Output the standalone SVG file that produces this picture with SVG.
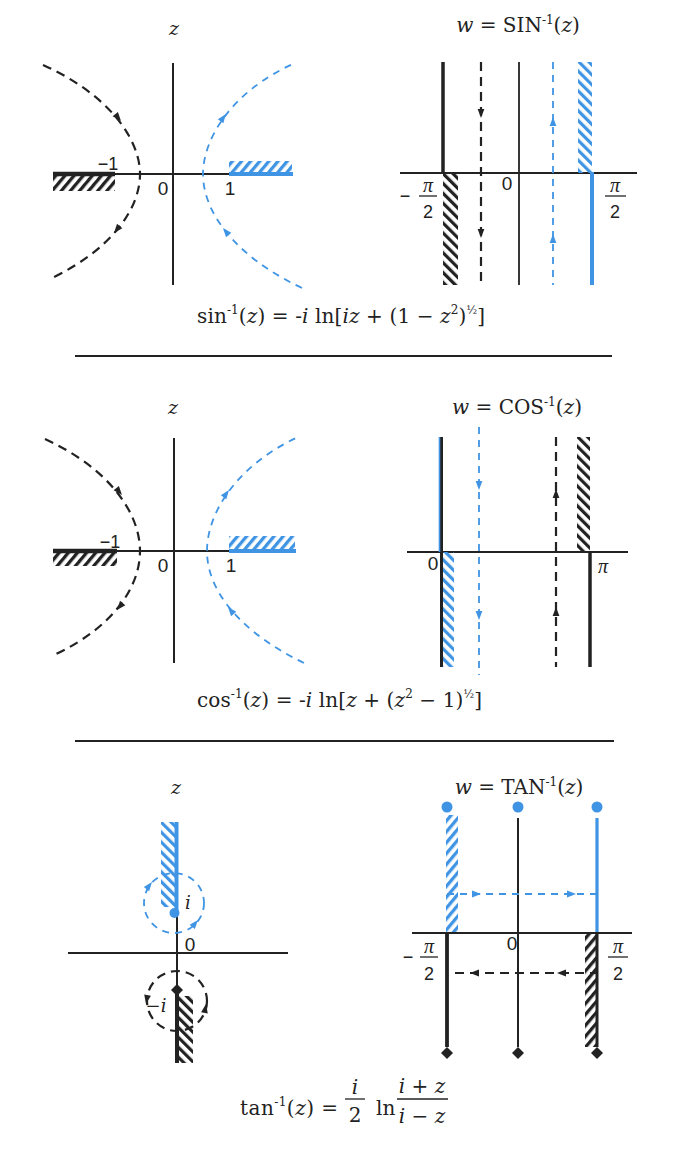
<svg xmlns="http://www.w3.org/2000/svg" xmlns:xlink="http://www.w3.org/1999/xlink" width="694" height="1166" viewBox="0 0 694 1166">
<style>
.bk{stroke:#222;fill:none}
.bl{stroke:#3f94e4;fill:none}
.ax{stroke:#222;stroke-width:2;fill:none}
.dk{stroke:#222;stroke-width:2.2;fill:none;stroke-dasharray:9 6}
.db{stroke:#3f94e4;stroke-width:1.8;fill:none;stroke-dasharray:7 6}
.ak{fill:#222}
.ab{fill:#3f94e4}
.m{font-family:"DejaVu Serif","Liberation Serif",serif;fill:#222}
.p{font-family:"Liberation Serif","Times New Roman",serif;font-style:italic;fill:#222}
.s{font-family:"Liberation Sans",Arial,sans-serif;fill:#222}
.it{font-style:italic}
</style>
<defs>
<pattern id="hkB" width="7" height="7" patternUnits="userSpaceOnUse" patternTransform="rotate(-45)"><rect width="3.2" height="7" fill="#222"/></pattern>
<pattern id="hkF" width="7" height="7" patternUnits="userSpaceOnUse" patternTransform="rotate(40)"><rect width="3.3" height="7" fill="#222"/></pattern>
<pattern id="hbB" width="7" height="7" patternUnits="userSpaceOnUse" patternTransform="rotate(-45)"><rect width="3.2" height="7" fill="#3f94e4"/></pattern>
<pattern id="hbF" width="7" height="7" patternUnits="userSpaceOnUse" patternTransform="rotate(40)"><rect width="3.3" height="7" fill="#3f94e4"/></pattern>
<path id="ah" d="M0,0 L-9,-3.4 L-9,3.4 Z"/>
<path id="dm" d="M0,-6 L6,0 L0,6 L-6,0 Z"/>
</defs>

<!-- ============ SIN z-plane ============ -->
<g id="sin-z">
<text class="m it" x="174" y="35" font-size="19" text-anchor="middle">z</text>
<line class="ax" x1="173" y1="63" x2="173" y2="285"/>
<line class="ax" x1="53" y1="174" x2="293" y2="174"/>
<rect x="53" y="174" width="62" height="17" fill="url(#hkF)"/>
<line class="bk" stroke-width="4.5" x1="53" y1="174" x2="115" y2="174"/>
<rect x="229" y="161" width="63" height="13" fill="url(#hbF)"/>
<line class="bl" stroke-width="4" x1="229" y1="174" x2="293" y2="174"/>
<text class="s" x="108" y="170" font-size="18" text-anchor="middle">−1</text>
<text class="s" x="163" y="195" font-size="19" text-anchor="middle">0</text>
<text class="s" x="230" y="195" font-size="19" text-anchor="middle">1</text>
</g>

<!-- ============ SIN w-plane ============ -->
<g id="sin-w">
<text class="m" x="518" y="32" font-size="20" text-anchor="middle"><tspan class="it">w</tspan> = SIN<tspan font-size="12" dy="-8">-1</tspan><tspan dy="8">(</tspan><tspan class="it">z</tspan>)</text>
<line class="ax" x1="400" y1="173" x2="637" y2="173"/>
<line class="bk" stroke-width="3.5" x1="443" y1="62" x2="443" y2="174"/>
<rect x="443" y="173" width="15" height="112" fill="url(#hkB)"/>
<line class="bk" stroke-width="1.8" x1="519" y1="62" x2="519" y2="285"/>
<rect x="578" y="62" width="14" height="111" fill="url(#hbB)"/>
<line class="bl" stroke-width="4" x1="592" y1="172" x2="592" y2="285"/>
<text class="s" x="507" y="190" font-size="19" text-anchor="middle">0</text>
<text class="s" x="405" y="202" font-size="18" text-anchor="middle">−</text>
<text class="p" x="428" y="192" font-size="20" text-anchor="middle">π</text>
<line class="bk" stroke-width="1.3" x1="419" y1="196" x2="437" y2="196"/>
<text class="s" x="428" y="218" font-size="18" text-anchor="middle">2</text>
<text class="p" x="615" y="192" font-size="20" text-anchor="middle">π</text>
<line class="bk" stroke-width="1.3" x1="605" y1="196" x2="626" y2="196"/>
<text class="s" x="615" y="218" font-size="18" text-anchor="middle">2</text>
</g>

<text id="f-sin" class="m" x="197" y="323" font-size="20" textLength="288" lengthAdjust="spacing">sin<tspan font-size="12" dy="-9">-1</tspan><tspan dy="9">(</tspan><tspan class="it">z</tspan>) = -<tspan class="it">i</tspan> ln[<tspan class="it">iz</tspan> + (1 − <tspan class="it">z</tspan><tspan font-size="12" dy="-9">2</tspan><tspan dy="9">)</tspan><tspan font-size="11" dy="-9">½</tspan><tspan dy="9">]</tspan></text>
<line id="rule1" class="bk" stroke-width="2.2" x1="75" y1="356" x2="612" y2="356"/>

<!-- ============ COS z-plane ============ -->
<g id="cos-z">
<text class="m it" x="173" y="414" font-size="19" text-anchor="middle">z</text>
<line class="ax" x1="174" y1="438" x2="174" y2="663"/>
<line class="ax" x1="53" y1="551" x2="296" y2="551"/>
<rect x="53" y="551" width="64" height="15" fill="url(#hkF)"/>
<line class="bk" stroke-width="4.5" x1="53" y1="551" x2="117" y2="551"/>
<rect x="229" y="536" width="66" height="15" fill="url(#hbF)"/>
<line class="bl" stroke-width="4" x1="229" y1="551" x2="296" y2="551"/>
<text class="s" x="110" y="548" font-size="18" text-anchor="middle">−1</text>
<text class="s" x="163" y="572" font-size="19" text-anchor="middle">0</text>
<text class="s" x="231" y="572" font-size="19" text-anchor="middle">1</text>
</g>

<!-- ============ COS w-plane ============ -->
<g id="cos-w">
<text class="m" x="517" y="414" font-size="20" text-anchor="middle"><tspan class="it">w</tspan> = COS<tspan font-size="12" dy="-8">-1</tspan><tspan dy="8">(</tspan><tspan class="it">z</tspan>)</text>
<line class="ax" x1="407" y1="552" x2="628" y2="552"/>
<line class="bk" stroke-width="3" x1="441.5" y1="437" x2="441.5" y2="667"/>
<line class="bl" stroke-width="1.6" x1="439.5" y1="437" x2="439.5" y2="552"/>
<rect x="443" y="552" width="11" height="115" fill="url(#hbB)"/>
<rect x="577" y="437" width="13" height="115" fill="url(#hkB)"/>
<line class="bk" stroke-width="3.5" x1="590" y1="551" x2="590" y2="667"/>
<text class="s" x="433" y="570" font-size="19" text-anchor="middle">0</text>
<text class="p" x="603" y="573" font-size="20" text-anchor="middle">π</text>
</g>

<text id="f-cos" class="m" x="197" y="707" font-size="20" textLength="285" lengthAdjust="spacing">cos<tspan font-size="12" dy="-9">-1</tspan><tspan dy="9">(</tspan><tspan class="it">z</tspan>) = -<tspan class="it">i</tspan> ln[<tspan class="it">z</tspan> + (<tspan class="it">z</tspan><tspan font-size="12" dy="-9">2</tspan><tspan dy="9"> − 1)</tspan><tspan font-size="11" dy="-9">½</tspan><tspan dy="9">]</tspan></text>
<line id="rule2" class="bk" stroke-width="2.2" x1="75" y1="741" x2="614" y2="741"/>

<!-- ============ TAN z-plane ============ -->
<g id="tan-z">
<text class="m it" x="176" y="794" font-size="19" text-anchor="middle">z</text>
<line class="ax" x1="177" y1="822" x2="177" y2="1063"/>
<line class="ax" x1="68" y1="953" x2="288" y2="953"/>
<rect x="161" y="822" width="15" height="85" fill="url(#hbB)"/>
<line class="bl" stroke-width="4" x1="176.5" y1="822" x2="176.5" y2="913"/>
<circle cx="174.5" cy="913" r="5" fill="#3f94e4"/>
<rect x="178" y="996" width="15" height="67" fill="url(#hkB)"/>
<line class="bk" stroke-width="4" x1="177" y1="990" x2="177" y2="1063"/>
<use xlink:href="#dm" class="ak" transform="translate(177,990)"/>
<text class="m it" x="188" y="909" font-size="18" text-anchor="middle">i</text>
<text class="s" x="190" y="951" font-size="19" text-anchor="middle">0</text>
<text class="m" x="156" y="1012" font-size="18" text-anchor="middle">−<tspan class="it">i</tspan></text>
</g>

<!-- ============ TAN w-plane ============ -->
<g id="tan-w">
<text class="m" x="519" y="794" font-size="20" text-anchor="middle"><tspan class="it">w</tspan> = TAN<tspan font-size="12" dy="-8">-1</tspan><tspan dy="8">(</tspan><tspan class="it">z</tspan>)</text>
<circle cx="447" cy="807" r="5.5" fill="#3f94e4"/>
<circle cx="518" cy="807" r="5.5" fill="#3f94e4"/>
<circle cx="597" cy="807" r="5.5" fill="#3f94e4"/>
<rect x="446" y="815" width="12" height="118" fill="url(#hbF)"/>
<line class="bk" stroke-width="2" x1="518" y1="818" x2="518" y2="1047"/>
<line class="bl" stroke-width="3.2" x1="597" y1="818" x2="597" y2="933"/>
<line class="ax" stroke-width="2.5" x1="412" y1="933" x2="632" y2="933"/>
<line class="bk" stroke-width="3.8" x1="447" y1="933" x2="447" y2="1047"/>
<rect x="585" y="934" width="12" height="113" fill="url(#hkF)"/>
<line class="bk" stroke-width="3" x1="597" y1="933" x2="597" y2="1047"/>
<use xlink:href="#dm" class="ak" transform="translate(447,1053)"/>
<use xlink:href="#dm" class="ak" transform="translate(518,1053)"/>
<use xlink:href="#dm" class="ak" transform="translate(597,1053)"/>
<text class="s" x="512" y="950" font-size="19" text-anchor="middle">0</text>
<text class="s" x="408" y="963" font-size="18" text-anchor="middle">−</text>
<text class="p" x="429" y="953" font-size="20" text-anchor="middle">π</text>
<line class="bk" stroke-width="1.3" x1="420" y1="957" x2="438" y2="957"/>
<text class="s" x="429" y="980" font-size="18" text-anchor="middle">2</text>
<text class="p" x="618" y="953" font-size="20" text-anchor="middle">π</text>
<line class="bk" stroke-width="1.3" x1="608" y1="957" x2="628" y2="957"/>
<text class="s" x="618" y="980" font-size="18" text-anchor="middle">2</text>
</g>

<g id="f-tan" class="m" font-size="20">
<text x="240" y="1115" textLength="98" lengthAdjust="spacing">tan<tspan font-size="12" dy="-9">-1</tspan><tspan dy="9">(</tspan><tspan class="it">z</tspan>) =</text>
<text class="it" x="355" y="1094" text-anchor="middle">i</text>
<line class="bk" stroke-width="1.3" x1="345" y1="1099" x2="365" y2="1099"/>
<text x="355" y="1122" text-anchor="middle">2</text>
<text x="376" y="1115">ln</text>
<text x="422" y="1093" text-anchor="middle"><tspan class="it">i</tspan> + <tspan class="it">z</tspan></text>
<line class="bk" stroke-width="1.3" x1="397" y1="1099" x2="448" y2="1099"/>
<text x="422" y="1123" text-anchor="middle"><tspan class="it">i</tspan> − <tspan class="it">z</tspan></text>
</g>

<!-- ============ connectors / paths ============ -->
<g id="connectors">
<!-- sin z-plane curves -->
<path class="dk" d="M43,65 C110,95 140,140 140,174 C140,210 110,250 52,278"/>
<path class="db" d="M302,288 C232,255 203,210 203,174 C203,140 230,92 295,63"/>
<use xlink:href="#ah" class="ak" transform="translate(121,121) rotate(50.5)"/>
<use xlink:href="#ah" class="ak" transform="translate(114,233) rotate(129)"/>
<use xlink:href="#ah" class="ab" transform="translate(226,114) rotate(-53)"/>
<use xlink:href="#ah" class="ab" transform="translate(223,228) rotate(-129)"/>
<!-- sin w-plane verticals -->
<path class="dk" stroke-dasharray="11 7" d="M481,62 V285"/>
<path class="db" d="M553,62 V285"/>
<use xlink:href="#ah" class="ak" transform="translate(481,118) rotate(90)"/>
<use xlink:href="#ah" class="ak" transform="translate(481,238) rotate(90)"/>
<use xlink:href="#ah" class="ab" transform="translate(553,117) rotate(-90)"/>
<use xlink:href="#ah" class="ab" transform="translate(553,234) rotate(-90)"/>
<!-- cos z-plane curves -->
<path class="dk" d="M45,439 C112,470 140,515 140,551 C140,588 112,628 54,655"/>
<path class="db" d="M304,663 C236,630 207,588 207,551 C207,515 234,467 298,437"/>
<use xlink:href="#ah" class="ak" transform="translate(122,495) rotate(50.5)"/>
<use xlink:href="#ah" class="ak" transform="translate(117,610) rotate(129)"/>
<use xlink:href="#ah" class="ab" transform="translate(229,490) rotate(-53)"/>
<use xlink:href="#ah" class="ab" transform="translate(228,607) rotate(-129)"/>
<!-- cos w-plane verticals -->
<path class="db" d="M479,427 V675"/>
<path class="dk" stroke-dasharray="11 7" d="M556,437 V667"/>
<use xlink:href="#ah" class="ab" transform="translate(479,490) rotate(90)"/>
<use xlink:href="#ah" class="ab" transform="translate(479,620) rotate(90)"/>
<use xlink:href="#ah" class="ak" transform="translate(556,489) rotate(-90)"/>
<use xlink:href="#ah" class="ak" transform="translate(556,607) rotate(-90)"/>
<!-- tan z-plane circles -->
<circle class="db" stroke-dasharray="8 6" cx="174" cy="903" r="30"/>
<circle class="dk" stroke-width="2" stroke-dasharray="7 6" cx="177" cy="1001" r="30"/>
<use xlink:href="#ah" class="ab" transform="translate(152,882) rotate(-52)"/>
<use xlink:href="#ah" class="ab" transform="translate(198,920) rotate(-50)"/>
<use xlink:href="#ah" class="ak" transform="translate(146,1004) rotate(100)"/>
<use xlink:href="#ah" class="ak" transform="translate(206,1004) rotate(-80)"/>
<!-- tan w-plane horizontals -->
<path class="db" stroke-dasharray="10 7" d="M447,894 H597"/>
<path class="dk" stroke-dasharray="9 7" d="M455,973 H597"/>
<use xlink:href="#ah" class="ab" transform="translate(481,894)"/>
<use xlink:href="#ah" class="ab" transform="translate(576,894)"/>
<use xlink:href="#ah" class="ak" transform="translate(470,973) rotate(180)"/>
<use xlink:href="#ah" class="ak" transform="translate(557,973) rotate(180)"/>
</g>
</svg>
